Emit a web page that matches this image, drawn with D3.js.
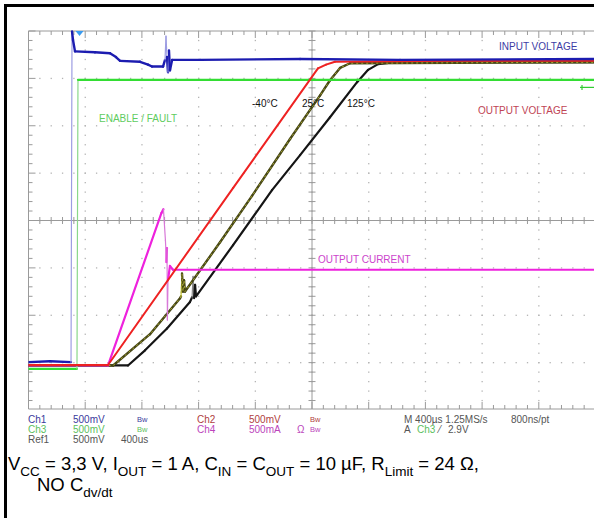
<!DOCTYPE html>
<html>
<head>
<meta charset="utf-8">
<script src="https://cdn.jsdelivr.net/npm/d3@7"></script>
<style>
  body { margin: 0; background: #fff; }
  svg { display: block; font-family: "Liberation Sans", Arial, sans-serif; }
</style>
</head>
<body>
<svg id="chart" width="594" height="518"></svg>
<script>
// scope traces: [time in us, value in V or A]
var ch1Input = [[-360,0.00],[-208,0.01],[-60,0.00],[-53,3.49],[-46,3.40],[-32,3.28],[109,3.27],[215,3.26],[257,3.22],[286,3.18],[427,3.17],[483,3.14],[511,3.12],[589,3.12],[603,3.19],[610,3.44],[617,3.22],[624,3.06],[631,3.29],[638,3.08],[653,3.19],[850,3.19],[1556,3.20],[2261,3.19],[3640,3.20]]
var ch3Enable = [[-360,0],[-18,0],[-11,3.05],[3640,3.05]]
var ch2Out40 = [[-360,0.00],[201,0.00],[1084,1.87],[1682,3.13],[1739,3.17],[1802,3.20],[2600,3.21],[3640,3.21]]
var refOut25 = [[-360,0],[237,0],[497,0.33],[709,0.71],[716,0.73],[723,0.97],[730,0.78],[737,0.90],[744,0.78],[991,1.30],[1217,1.79],[1485,2.39],[1697,2.85],[1767,3.01],[1838,3.14],[1908,3.19],[3640,3.20]]
var refOut125 = [[-360,0],[342,0],[462,0.16],[617,0.39],[779,0.67],[794,0.72],[801,0.94],[808,0.71],[815,0.85],[822,0.73],[1083,1.27],[1358,1.85],[1556,2.22],[1767,2.62],[1958,2.99],[2036,3.12],[2106,3.18],[2226,3.20],[3640,3.20]]
var ch4Current = [[-360,0],[201,0],[578,1.61],[592,1.65],[606,1.32],[613,1.09],[617,1.24],[620,0.48],[624,0.90],[638,1.05],[659,1.01],[3640,1.01]]
var trigLevel = 2.97

var tempLabels = ["-40°C", "25°C", "125°C"]
var infoRow1 = ["Ch1", "500mV", "Bw", "Ch2", "500mV", "Bw", "M 400µs 1.25MS/s", "800ns/pt"]
var infoRow2 = ["Ch3", "500mV", "Bw", "Ch4", "500mA", "Ω", "Bw", "A", "Ch3", "⁄", "2.9V"]
var infoRow3 = ["Ref1", "500mV", "400us"]

var svg = d3.select("#chart")

// 400us/div, 10 div across, 8 div high
var x = d3.scaleLinear().domain([-360, 3640]).range([28.5, 595.5])
var y = d3.scaleLinear().domain([-4, 4]).range([410, 31])
var divW = x(400) - x(0), divH = y(0) - y(1)

// outer frame
svg.append("line").attr("x1", 4).attr("x2", 594).attr("y1", 5.5).attr("y2", 5.5).attr("stroke", "#000").attr("stroke-width", 3)
svg.append("line").attr("x1", 5.5).attr("x2", 5.5).attr("y1", 4).attr("y2", 518).attr("stroke", "#000").attr("stroke-width", 3)

var grid = svg.append("g")
var gx0 = x(-360), gy0 = y(4), gy1 = y(-4) - 1

// dotted graticule
d3.range(1, 10).forEach(function (i) {
    var px = gx0 + i * divW
    d3.range(1, 40).forEach(function (k) {
        var py = gy0 + k * divH / 5
        if (py < gy1) grid.append("rect").attr("x", px - 0.6).attr("y", py - 0.6).attr("width", 1.3).attr("height", 1.3).attr("fill", "#b4b4b4")
    })
})
d3.range(1, 8).forEach(function (j) {
    var py = gy0 + j * divH
    d3.range(1, 50).forEach(function (k) {
        grid.append("rect").attr("x", gx0 + k * divW / 5 - 0.6).attr("y", py - 0.6).attr("width", 1.3).attr("height", 1.3).attr("fill", "#b4b4b4")
    })
})

// edges and centre cross
var lc = "#9a9a9a"
grid.append("line").attr("x1", gx0).attr("x2", gx0).attr("y1", gy0).attr("y2", gy1).attr("stroke", lc)
grid.append("line").attr("x1", gx0).attr("x2", 594).attr("y1", gy0).attr("y2", gy0).attr("stroke", lc)
grid.append("line").attr("x1", gx0).attr("x2", 594).attr("y1", gy1).attr("y2", gy1).attr("stroke", lc)
var cx = x(1640), cy = y(0)
grid.append("line").attr("x1", cx).attr("x2", cx).attr("y1", gy0).attr("y2", gy1).attr("stroke", lc)
grid.append("line").attr("x1", gx0).attr("x2", 594).attr("y1", cy).attr("y2", cy).attr("stroke", lc)

d3.range(0, 51).forEach(function (k) {
    var px = gx0 + k * divW / 5
    if (px > 594) return
    var len = k % 5 == 0 ? 7 : 4
    grid.append("line").attr("x1", px).attr("x2", px).attr("y1", gy0).attr("y2", gy0 + len).attr("stroke", lc)
    grid.append("line").attr("x1", px).attr("x2", px).attr("y1", gy1).attr("y2", gy1 - len).attr("stroke", lc)
    grid.append("line").attr("x1", px).attr("x2", px).attr("y1", cy - 3.5).attr("y2", cy + 3.5).attr("stroke", lc)
})
d3.range(0, 41).forEach(function (k) {
    var py = gy0 + k * divH / 5
    if (py > gy1) return
    var len = k % 5 == 0 ? 7 : 4
    grid.append("line").attr("x1", gx0).attr("x2", gx0 + len).attr("y1", py).attr("y2", py).attr("stroke", lc)
    grid.append("line").attr("x1", cx - 3.5).attr("x2", cx + 3.5).attr("y1", py).attr("y2", py).attr("stroke", lc)
})

// traces
svg.append("clipPath").attr("id", "scr").append("rect").attr("x", gx0).attr("y", gy0 - 1).attr("width", 594 - gx0).attr("height", gy1 - gy0 + 2)
var traces = svg.append("g").attr("clip-path", "url(#scr)")

function drawTrace(data, offset, perDiv, color, edge, width, dash) {
    var pts = data.map(function (d) { return [x(d[0]), y(offset + d[1] / perDiv)] })
    var g = traces.append("g")
    for (var i = 1; i < pts.length; i++) {
        var a = pts[i - 1], b = pts[i]
        var steep = Math.abs(b[1] - a[1]) > 20 && Math.abs(b[0] - a[0]) < 3
        g.append("line").attr("x1", a[0]).attr("y1", a[1]).attr("x2", b[0]).attr("y2", b[1])
            .attr("stroke", steep ? edge : color)
            .attr("stroke-width", steep ? 1.2 : width)
            .attr("stroke-linecap", "round")
    }
    if (dash) {
        traces.append("path").attr("d", d3.line()(pts)).attr("fill", "none")
            .attr("stroke", dash).attr("stroke-width", 1).attr("stroke-dasharray", "2,3")
    }
}

drawTrace(refOut125, -3.06, 0.5, "#151515", "#8a8a8a", 2.2)
drawTrace(refOut25, -3.06, 0.5, "#474716", "#c8c832", 2.4, "#a8a832")
drawTrace(ch4Current, -3.06, 0.5, "#ee22dd", "#d879d8", 2.2)
drawTrace(ch3Enable, -3.13, 0.5, "#33dd33", "#8ad88a", 2.2)
drawTrace(ch2Out40, -3.05, 0.5, "#ee2222", "#ee8888", 2)
drawTrace(ch1Input, -2.99, 0.5, "#1c1cb0", "#9c9ce2", 2.4)

// trigger position marker and ch3 level marker
var tx = x(0)
svg.append("path").attr("d", "M" + (tx - 4) + "," + gy0 + "L" + (tx + 4) + "," + gy0 + "L" + tx + "," + (gy0 + 5) + "Z").attr("fill", "#3a9cf0")
var ly = y(-3.13 + trigLevel / 0.5)
svg.append("line").attr("x1", 580).attr("x2", 594).attr("y1", ly).attr("y2", ly).attr("stroke", "#33cc33").attr("stroke-width", 1.2)
svg.append("line").attr("x1", 582).attr("x2", 582).attr("y1", ly - 2.5).attr("y2", ly + 2.5).attr("stroke", "#33cc33").attr("stroke-width", 1.2)

// trace labels
function label(t, px, py, col) {
    svg.append("text").attr("x", px).attr("y", py).attr("font-size", 10).attr("fill", col).text(t)
}
label("INPUT VOLTAGE", 499, 50, "#3c3ca4")
label("OUTPUT VOLTAGE", 478, 114, "#c04454")
label("ENABLE / FAULT", 99, 122, "#60cc60")
label("OUTPUT CURRENT", 318, 263, "#cc44cc")
label(tempLabels[0], 252, 107, "#111")
label(tempLabels[1], 302, 107, "#111")
label(tempLabels[2], 347, 107, "#111")

// scope readout
function info(t, px, py, col, size) {
    svg.append("text").attr("x", px).attr("y", py).attr("font-size", size || 10).attr("fill", col).text(t)
}
var blue = "#3a3a9c", red = "#b04040", green = "#5cc05c", mag = "#bb44bb", gray = "#555"
var r1 = 423, r2 = 433, r3 = 443
info(infoRow1[0], 28, r1, blue); info(infoRow1[1], 73, r1, blue); info(infoRow1[2], 137, r1 - 1, blue, 7.5)
info(infoRow1[3], 197, r1, red); info(infoRow1[4], 249, r1, red); info(infoRow1[5], 310, r1 - 1, red, 7.5)
info(infoRow1[6], 404, r1, gray); info(infoRow1[7], 511, r1, gray)
info(infoRow2[0], 28, r2, green); info(infoRow2[1], 73, r2, green); info(infoRow2[2], 137, r2 - 1, green, 7.5)
info(infoRow2[3], 197, r2, mag); info(infoRow2[4], 249, r2, mag); info(infoRow2[5], 297, r2, mag); info(infoRow2[6], 310, r2 - 1, mag, 7.5)
info(infoRow2[7], 404, r2, gray); info(infoRow2[8], 417, r2, green); info(infoRow2[9], 439, r2, gray); info(infoRow2[10], 448, r2, gray)
info(infoRow3[0], 28, r3, gray); info(infoRow3[1], 73, r3, gray); info(infoRow3[2], 121, r3, gray)

// caption with subscripts
var cap1 = [["V"], ["CC", 1], [" = 3,3 V, I"], ["OUT", 1], [" = 1 A, C"], ["IN", 1], [" = C"], ["OUT", 1], [" = 10 µF, R"], ["Limit", 1], [" = 24 Ω,"]]
var cap2 = [["NO C"], ["dv/dt", 1]]
function caption(parts, px, py) {
    var t = svg.append("text").attr("x", px).attr("y", py).attr("font-size", 18.5).attr("fill", "#000")
    var low = false
    parts.forEach(function (p) {
        var s = t.append("tspan").text(p[0])
        if (p[1]) { s.attr("font-size", 13.5).attr("dy", low ? 0 : 6); low = true }
        else { if (low) s.attr("dy", -6); low = false }
    })
}
caption(cap1, 8, 470)
caption(cap2, 37, 491)
</script>
</body>
</html>
